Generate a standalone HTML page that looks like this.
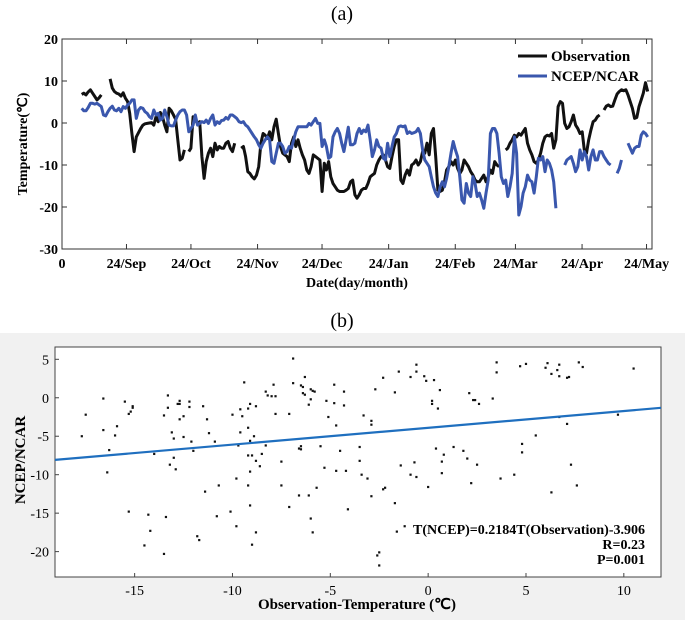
<!DOCTYPE html>
<html><head><meta charset="utf-8"><style>
html,body{margin:0;padding:0;background:#fff;}
svg{display:block;font-family:"Liberation Serif",serif;}
</style></head><body>
<svg id="chart" width="685" height="620" viewBox="0 0 685 620" xmlns="http://www.w3.org/2000/svg">
<text x="342" y="20" font-size="20" text-anchor="middle">(a)</text>
<g id="pa"></g>
<text x="342" y="327" font-size="20" text-anchor="middle">(b)</text>
<rect x="0" y="333" width="685" height="287" fill="#f1f1f1"/>
<g id="pb"></g>
</svg>
<script>
// ---------- Panel (a) data ----------
const aMonthLabels = ["24/Sep","24/Oct","24/Nov","24/Dec","24/Jan","24/Feb","24/Mar","24/Apr","24/May"];
const aMonthDays = [30,60,91,121,152,183,211,242,272];
const aYTicks = [20,10,0,-10,-20,-30];
const aStartDay = 9.15;
const aStepDays = 1.017;
const obsValues = [6.8,7.1,6.7,7.4,7.9,7.1,6.3,5.5,6.0,6.7,null,null,null,
10.5,8.3,7.5,7.1,6.9,6.4,7.2,5.9,5.1,2.3,-2.5,-6.8,-3.3,-2.3,-1.3,-0.5,-0.2,-0.1,0,0.1,-0.5,1.5,0.3,2.5,1.5,-0.5,-2.1,3.5,2.9,1.9,0.9,-4.0,-8.8,-8.4,-6.4,null,
-6.8,-6.0,1.5,0.7,-0.1,0.3,-8.0,-13.2,-9.2,-7.2,-6.0,-8.0,-4.8,-6.4,-5.6,-6.0,-6.0,-4.8,-4.4,-6.0,-6.8,-4.8,null,null,
-6.0,-5.6,-8.0,-11.6,-12.0,-12.8,-13.3,-12.4,-10.4,-4.8,-2.5,-2.9,-3.7,-2.1,-4.0,-0.9,0.9,-2.5,-5.6,-7.2,-7.6,-8.0,-9.2,-4.8,-3.3,-5.6,-4.0,-6.0,-7.6,-8.8,-11.2,-12.0,-10.4,-7.6,-8.0,-8.4,-8.8,-16.3,-9.6,-11.2,-9.2,-12.8,-14.4,-15.2,-16.0,-16.3,-16.3,-16.3,-16.0,-15.6,-14.0,-13.6,-17.1,-17.9,-17.1,-16.0,-15.6,-15.6,-14.4,-12.8,-12.4,-12.0,-10.0,-8.8,-8.0,-7.6,-8.8,-10.4,-10.8,-8.0,-5.6,-4.0,-4.0,-13.6,-14.4,-12.4,-11.2,-12.4,-10.0,-9.6,-8.8,-10.0,-9.2,-6.8,-7.2,-4.8,-7.6,-2.5,-1.3,-8.0,-16.0,-16.3,-16.0,-14.0,-11.2,-10.4,-9.2,-10.0,-8.8,-10.8,-12.0,-11.2,-8.8,-9.6,-10.4,-11.6,-12.4,-13.6,-14.0,-14.0,-13.2,-12.4,-14.0,-12.8,-11.2,-12.0,-9.2,-10.0,-10.4,null,null,
-6.4,-6.0,-4.8,-4.0,-2.9,-3.3,-2.5,-2.9,-2.1,-1.3,-4.8,-6.4,-7.6,-9.2,-9.6,-8.8,-7.2,-4.8,-3.3,-2.9,-3.1,-2.5,-6.0,-4.0,3.9,5.1,4.7,-0.1,-1.3,-0.9,0.3,1.9,-0.5,-1.3,-2.5,-2.1,-6.4,-7.2,-4.0,-1.7,0.3,0.7,1.5,1.9,null,
3.1,4.0,4.3,3.9,4.0,5.5,6.9,7.5,7.9,7.7,7.9,6.7,5.1,3.5,1.1,1.3,3.9,5.5,7.1,9.6,7.5];
const ncepValues = [3.5,2.9,2.9,3.7,4.7,4.7,4.5,4.7,4.3,3.9,1.9,1.7,2.7,3.5,4.0,3.1,2.9,3.5,2.7,3.9,3.5,4.3,4.7,5.5,5.5,1.1,3.1,3.7,3.5,2.7,2.3,1.5,1.1,3.1,1.9,2.3,0.7,1.1,3.1,1.5,-0.5,-0.7,-0.7,0.7,1.9,2.7,3.1,3.1,1.9,-2.1,-1.3,-0.5,1.9,-0.5,-0.1,0.3,0.1,0.7,-0.1,1.1,1.9,-0.5,0.3,-0.1,0.6,0.7,1.3,0.9,1.9,1.9,1.5,1.1,0.3,0.1,0.3,-0.5,-0.9,-1.7,-2.5,-3.3,-4.0,-5.2,-6.0,-4.8,-4.0,-3.3,-4.0,-9.2,-9.6,-7.2,-4.8,-4.8,-5.6,-7.2,-6.8,-5.6,-6.0,-4.0,-2.1,-0.9,-0.9,-0.9,-0.9,-0.9,-0.1,-0.5,0.3,1.1,-0.1,-0.1,-5.6,-4.0,-5.6,-8.4,-8.0,-3.3,-2.1,-1.3,-2.5,-4.8,-6.8,-4.0,-1.0,-5.2,-5.2,-4.8,-2.5,-1.3,-2.5,-1.7,-2.1,-0.5,-4.0,-8.0,-6.4,-4.0,-5.6,-6.0,-8.4,-8.8,-4.8,-8.0,-5.6,-3.3,-2.5,-0.9,-0.7,-0.9,-0.7,-2.5,-2.1,-2.5,-2.3,-2.1,-1.3,-2.5,-6.4,-8.8,-9.6,-10.4,-12.8,-15.2,-16.7,-17.5,-15.2,-14.0,-15.2,-13.2,-10.4,-7.2,-4.4,-6.4,-8.0,-12.8,-18.3,-19.1,-14.4,-16.7,-17.5,-12.8,-14.4,-17.5,-16.7,-18.3,-20.3,-16.7,-13.6,-2.5,-1.3,-1.3,-2.5,-7.2,-12.8,-14.4,-13.6,-17.5,-15.2,-12.0,-3.3,-7.2,-21.9,-19.9,-16.7,-15.2,-12.4,-13.6,-14.0,-16.7,-12.8,-8.4,-8.8,-8.0,-11.6,-8.8,-9.6,-11.2,-14.0,-20.3,null,null,null,
-10.0,-8.8,-8.4,-8.0,-9.6,-11.6,-10.4,-6.4,-8.8,-6.8,-8.0,-11.2,-8.0,-6.4,-8.8,-8.8,-6.8,-6.8,-8.0,-8.8,-9.6,-10.0,null,null,-12.0,-10.8,-8.8,null,null,-4.8,-6.0,-7.2,-6.0,-5.6,-5.6,-2.9,-2.1,-2.5,-3.3];

// ---------- Panel (b) data ----------
const bXTicks = [-15,-10,-5,0,5,10];
const bYTicks = [5,0,-5,-10,-15,-20];
const fitSlope = 0.2184, fitIntercept = -3.906;
const scatterObs = [-17.7,-17.5,-16.6,-16.6,-16.3,-16.4,-16.0,-15.9,-15.5,-15.3,-15.2,-15.1,-15.1,-15.3,-14.3,-14.2,-14.5,-14.0,-13.5,-13.5,-13.4,-13.3,-13.3,-13.2,-13.1,-13.0,-13.0,-12.9,-12.8,-12.7,-12.7,-12.7,-12.5,-12.5,-12.2,-12.2,-12.1,-12.0,-11.8,-11.7,-11.5,-11.4,-11.3,-11.2,-10.9,-10.8,-10.7,-10.1,-10.0,-9.8,-9.8,-9.7,-9.6,-9.6,-9.5,-9.4,-9.2,-9.2,-9.2,-9.2,-9.1,-9.1,-9.1,-9.1,-9.0,-9.0,-8.9,-8.8,-8.8,-8.8,-8.6,-8.5,-8.3,-8.3,-8.2,-8.0,-7.9,-7.8,-7.8,-7.5,-7.5,-7.1,-7.1,-6.9,-6.9,-6.6,-6.6,-6.5,-6.5,-6.5,-6.4,-6.4,-6.3,-6.3,-6.1,-6.1,-6.0,-6.0,-6.0,-5.9,-5.9,-5.8,-5.7,-5.5,-5.3,-5.2,-5.1,-4.8,-4.8,-4.7,-4.7,-4.5,-4.3,-4.3,-4.2,-4.1,-3.3,-3.5,-3.5,-3.4,-3.1,-2.9,-2.9,-2.9,-2.7,-2.6,-2.5,-2.5,-2.3,-2.3,-2.2,-1.7,-1.7,-1.6,-1.5,-1.4,-1.2,-0.9,-0.9,-0.7,-0.6,-0.6,-0.6,-0.2,-0.1,0.0,0.2,0.2,0.3,0.4,0.5,0.6,0.7,0.7,0.8,1.3,1.8,2.0,2.1,2.2,2.3,2.4,2.5,2.6,3.3,3.5,3.5,3.7,4.4,4.7,4.8,4.8,5.0,5.5,6.0,6.1,6.3,6.3,6.6,6.7,6.7,6.7,7.1,7.1,7.2,7.3,7.6,7.7,7.9,9.7,10.5];
const scatterNcep = [-5.0,-2.2,-0.1,-4.2,-6.8,-9.7,-4.9,-3.7,-0.5,-2.1,-1.8,-1.3,-1.1,-14.8,-15.2,-17.3,-19.2,-7.3,-2.3,-20.3,-15.5,0.3,-1.3,-8.7,-4.5,-5.3,-7.8,-9.3,-0.8,-0.4,-2.8,-0.8,-2.4,-5.1,-0.5,-1.2,-5.7,-6.9,-18.0,-18.5,-1.1,-12.2,-2.8,-4.6,-5.7,-15.4,-11.4,-14.8,-2.2,-10.5,-16.7,-6.2,-4.5,-1.5,-2.4,2.0,-1.4,-3.9,-7.5,-11.4,-0.8,-14.0,-5.6,-9.6,-7.5,-19.1,-5.0,-17.5,-1.1,-8.2,-8.9,-7.3,-6.2,0.8,0.3,0.2,1.7,-2.1,0.2,-8.3,-11.4,-14.2,-2.1,5.1,1.9,-6.6,-12.7,-6.3,-6.7,1.6,1.4,0.6,2.7,0.4,-12.7,-0.9,1.1,-15.7,-0.2,0.9,-17.5,0.8,-11.7,-6.3,-9.1,-0.4,-2.5,1.7,-0.7,-3.6,-9.5,-6.9,0.8,-1.0,-9.5,-14.5,-2.3,-6.4,-8.2,-10.0,-10.5,-12.8,-3.5,-3.0,1.1,-20.5,-20.1,-21.8,2.6,-11.9,-11.7,0.7,-13.7,-17.4,3.4,-8.8,-16.7,2.7,-10.0,-8.4,4.3,-10.3,3.4,2.8,2.2,-11.6,-0.8,-0.4,2.3,-6.6,-1.4,1.0,-8.3,-9.8,-7.4,-6.4,-6.9,-7.9,0.6,-11.1,-0.3,-0.3,-8.7,-0.8,-0.1,4.6,3.3,-10.5,-10.0,4.1,-6.0,-7.1,4.4,-4.9,3.9,4.5,-12.3,3.1,3.6,4.3,2.8,-2.5,-3.4,2.6,2.7,-8.7,-11.4,4.6,4.0,-2.2,3.8];

const NS = "http://www.w3.org/2000/svg";
function mk(parent, tag, attrs){const e=document.createElementNS(NS,tag);for(const k in attrs)e.setAttribute(k,attrs[k]);parent.appendChild(e);return e;}

// ---------- Draw panel (a) ----------
(function(){
  const g = document.getElementById('pa');
  const L=62,R=652,T=39,B=249, xMax=(652-62)/2.149, yMin=-30,yMax=20;
  const xs = d => L + d*(R-L)/xMax;
  const ys = v => B - (v-yMin)*(B-T)/(yMax-yMin);
  const frame = mk(g,'rect',{x:L,y:T,width:R-L,height:B-T,fill:'#fff',stroke:'#333','stroke-width':1});
  
  
  aYTicks.forEach(v=>{
    const y=ys(v);
    const t1=mk(g,'line',{x1:L,x2:L+5,y1:y,y2:y,stroke:'#333'});
    
    
    const t2=mk(g,'line',{x1:R-5,x2:R,y1:y,y2:y,stroke:'#333'});
    
    
    const tx=mk(g,'text',{x:L-4,y:y+5,'font-size':14,'font-weight':'bold','text-anchor':'end'});
    tx.textContent=v;
    
    
  });
  const z=mk(g,'text',{x:L,y:B+19,'font-size':14,'font-weight':'bold','text-anchor':'middle'});
  z.textContent='0';
  
  
  aMonthDays.forEach((d,i)=>{
    const x=xs(d);
    const t1=mk(g,'line',{x1:x,x2:x,y1:B,y2:B-5,stroke:'#333'});
    
    
    const t2=mk(g,'line',{x1:x,x2:x,y1:T,y2:T+5,stroke:'#333'});
    
    
    const tx=mk(g,'text',{x:x,y:B+19,'font-size':14,'font-weight':'bold','text-anchor':'middle'});
    tx.textContent=aMonthLabels[i];
    
    
  });
  function series(vals,color,name){
    let d='',pen=false;
    vals.forEach((v,i)=>{
      if(v===null){pen=false;return;}
      const x=xs(aStartDay+i*aStepDays), y=ys(v);
      d+=(pen?'L':'M')+x.toFixed(1)+' '+y.toFixed(1)+' ';
      pen=true;
    });
    const p=mk(g,'path',{d:d,fill:'none',stroke:color,'stroke-width':3,'stroke-linejoin':'round'});
    
    
  }
  series(obsValues,'#111','observation-line');
  series(ncepValues,'#3a57ad','ncep-ncar-line');
  const l1=mk(g,'line',{x1:518,x2:547,y1:56,y2:56,stroke:'#111','stroke-width':3});
  
  
  const lt1=mk(g,'text',{x:551,y:61,'font-size':15,'font-weight':'bold'});
  lt1.textContent='Observation';
  
  
  const l2=mk(g,'line',{x1:518,x2:547,y1:76,y2:76,stroke:'#3a57ad','stroke-width':3});
  
  
  const lt2=mk(g,'text',{x:551,y:81,'font-size':15,'font-weight':'bold'});
  lt2.textContent='NCEP/NCAR';
  
  
  const yl=mk(g,'text',{x:0,y:0,'font-size':14,'font-weight':'bold','text-anchor':'middle',transform:'translate(27,144) rotate(-90)'});
  yl.textContent='Temperature(℃)';
  
  
  const xl=mk(g,'text',{x:357,y:287,'font-size':14,'font-weight':'bold','text-anchor':'middle'});
  xl.textContent='Date(day/month)';
  
  
})();

// ---------- Draw panel (b) ----------
(function(){
  const g=document.getElementById('pb');
  const L=55,R=661,T=347,B=577, xMin=-19.07,xMax=11.9, yMin=-23.3,yMax=6.6;
  const xs=v=>L+(v-xMin)*(R-L)/(xMax-xMin);
  const ys=v=>B-(v-yMin)*(B-T)/(yMax-yMin);
  const fr=mk(g,'rect',{x:L,y:T,width:R-L,height:B-T,fill:'#fff',stroke:'#444','stroke-width':1});
  
  
  bXTicks.forEach(v=>{
    const x=xs(v);
    const t=mk(g,'line',{x1:x,x2:x,y1:B,y2:B-4,stroke:'#444'});
    
    
    const tx=mk(g,'text',{x:x,y:B+18,'font-size':14,'text-anchor':'middle'});
    tx.textContent=v;
    
    
  });
  bYTicks.forEach(v=>{
    const y=ys(v);
    const t=mk(g,'line',{x1:L,x2:L+4,y1:y,y2:y,stroke:'#444'});
    
    
    const tx=mk(g,'text',{x:L-6,y:y+5,'font-size':14,'text-anchor':'end'});
    tx.textContent=v;
    
    
  });
  scatterObs.forEach((xv,i)=>{
    const c=mk(g,'rect',{x:xs(xv)-1.1,y:ys(scatterNcep[i])-1.1,width:2.2,height:2.2,fill:'#111'});
    
    
  });
  const fl=mk(g,'line',{x1:xs(xMin),y1:ys(fitSlope*xMin+fitIntercept),x2:xs(xMax),y2:ys(fitSlope*xMax+fitIntercept),stroke:'#1f6fbf','stroke-width':2.2});
  
  
  const anno=['T(NCEP)=0.2184T(Observation)-3.906','R=0.23','P=0.001'];
  anno.forEach((s,i)=>{
    const tx=mk(g,'text',{x:645,y:534+i*15,'font-size':14,'font-weight':'bold','text-anchor':'end'});
    tx.textContent=s;
    
    
  });
  const yl=mk(g,'text',{x:0,y:0,'font-size':15,'font-weight':'bold','text-anchor':'middle',transform:'translate(25,460) rotate(-90)'});
  yl.textContent='NCEP/NCAR';
  
  
  const xl=mk(g,'text',{x:357,y:609,'font-size':15,'font-weight':'bold','text-anchor':'middle'});
  xl.textContent='Observation-Temperature (℃)';
  
  
})();
</script>
</body></html>
